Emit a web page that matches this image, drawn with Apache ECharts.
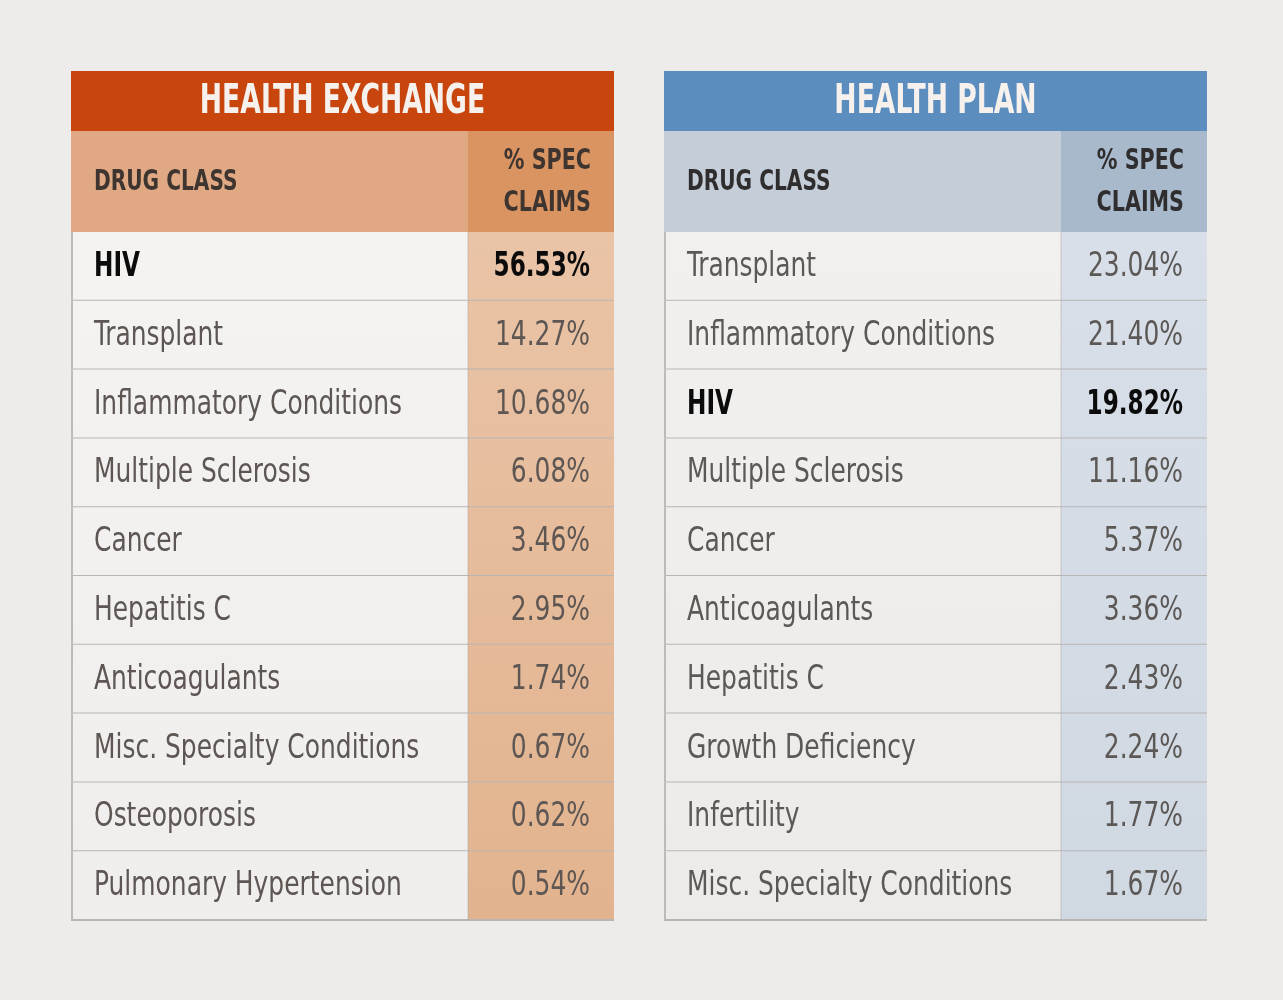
<!DOCTYPE html>
<html><head><meta charset="utf-8">
<script src="https://cdn.jsdelivr.net/npm/echarts@6/dist/echarts.min.js"></script>
<style>html,body{margin:0;padding:0;background:#edecea;}#c{width:1283px;height:1000px;}</style>
</head><body><div id="c"></div>
<script>
const exchangeLabels = ['HIV','Transplant','Inflammatory Conditions','Multiple Sclerosis','Cancer','Hepatitis C','Anticoagulants','Misc. Specialty Conditions','Osteoporosis','Pulmonary Hypertension'];
const exchangeValues = [56.53, 14.27, 10.68, 6.08, 3.46, 2.95, 1.74, 0.67, 0.62, 0.54];
const planLabels = ['Transplant','Inflammatory Conditions','HIV','Multiple Sclerosis','Cancer','Anticoagulants','Hepatitis C','Growth Deficiency','Infertility','Misc. Specialty Conditions'];
const planValues = [23.04, 21.40, 19.82, 11.16, 5.37, 3.36, 2.43, 2.24, 1.77, 1.67];
const tableTitles = ['HEALTH EXCHANGE','HEALTH PLAN'];
const columnHeaders = ['DRUG CLASS','% SPEC\nCLAIMS'];
const highlighted = 'HIV';

const FONT = "'DejaVu Sans Condensed','Liberation Sans Narrow',sans-serif";
const SPLIT = 397/543;
const G = echarts.graphic;

const palettes = [
  {title:'#c8450d', sub:'#e0a983', subCol:'#da9462', cellTop:'#f4f3f1', cellBot:'#efeeec', valTop:'#eac4a7', valBot:'#e2b38e', text:'#5d5653', head:'#3e3430'},
  {title:'#5b8dbf', sub:'#c4cdd8', subCol:'#a8b9cc', cellTop:'#f1f0ef', cellBot:'#ecebea', valTop:'#d8dfe8', valBot:'#d0d8e2', text:'#5c5856', head:'#2f2d2d'}
];
const tables = [
  {labels: exchangeLabels, values: exchangeValues, left: 71},
  {labels: planLabels, values: planValues, left: 664}
];
const TOP = 71, TITLE_H = 60, SUB_H = 101, BODY_TOP = 232, BODY_H = 688, WIDTH = 543;

function makeRender(labels, pal) {
  return function (params, api) {
    const i = api.value(0);
    const v = api.value(1);
    const cs = params.coordSys;
    const c = api.coord([0, i]);
    const h = api.size([0, 1])[1];
    const top = c[1] - h / 2;
    const xL = cs.x, xR = cs.x + cs.width, xS = cs.x + cs.width * SPLIT;
    const bold = labels[i] === highlighted;
    const y0 = cs.y, y1 = cs.y + cs.height;
    const cellFill = new G.LinearGradient(0, y0, 0, y1, [{offset:0,color:pal.cellTop},{offset:1,color:pal.cellBot}], true);
    const valFill = new G.LinearGradient(0, y0, 0, y1, [{offset:0,color:pal.valTop},{offset:1,color:pal.valBot}], true);
    const sx = bold ? 0.78 : 0.84;
    const txt = {fontFamily:FONT, fontSize:33, fontWeight:bold?'bold':'normal', fill:bold?'#0c0b0b':pal.text, verticalAlign:'middle'};
    const children = [
      {type:'rect', shape:{x:xL, y:top, width:xS-xL, height:h}, style:{fill:cellFill}},
      {type:'rect', shape:{x:xS, y:top, width:xR-xS, height:h}, style:{fill:valFill}},
      {type:'line', shape:{x1:xL, y1:top+h, x2:xR, y2:top+h}, style:{stroke:'#b8b6b3', lineWidth:2}},
      {type:'line', shape:{x1:xL+1, y1:top, x2:xL+1, y2:top+h}, style:{stroke:'#bdbbb8', lineWidth:2}},
      {type:'line', shape:{x1:xS, y1:top, x2:xS, y2:top+h}, style:{stroke:'rgba(170,165,160,0.5)', lineWidth:1}},
      {type:'text', x:xL+23, y:top+h/2+1, scaleX:sx, style:Object.assign({text:labels[i], x:0, y:0, align:'left'}, txt)},
      {type:'text', x:xR-24, y:top+h/2+1, scaleX:sx, style:Object.assign({text:v.toFixed(2)+'%', x:0, y:0, align:'right'}, txt)}
    ];
    return {type:'group', children};
  };
}

const graphics = [];
tables.forEach((t, k) => {
  const pal = palettes[k];
  const x = t.left, xs = t.left + WIDTH * SPLIT;
  graphics.push(
    {type:'rect', left:x, top:TOP, shape:{width:WIDTH, height:TITLE_H}, style:{fill:pal.title}},
    {type:'text', x:x+WIDTH/2, y:TOP+TITLE_H/2+2, scaleX:0.74, style:{text:tableTitles[k], x:0, y:0, align:'center', verticalAlign:'middle', fontFamily:FONT, fontSize:40, fontWeight:'bold', fill:'#f6f1ec'}},
    {type:'rect', left:x, top:TOP+TITLE_H, shape:{width:xs-x, height:SUB_H}, style:{fill:pal.sub}},
    {type:'rect', left:xs, top:TOP+TITLE_H, shape:{width:x+WIDTH-xs, height:SUB_H}, style:{fill:pal.subCol}},
    {type:'text', x:x+23, y:TOP+TITLE_H+SUB_H/2+1, scaleX:0.8, style:{text:columnHeaders[0], x:0, y:0, align:'left', verticalAlign:'middle', fontFamily:FONT, fontSize:28, fontWeight:'bold', fill:pal.head}},
    {type:'text', x:x+WIDTH-23, y:TOP+TITLE_H+SUB_H/2+1, scaleX:0.82, style:{text:columnHeaders[1], x:0, y:0, align:'right', verticalAlign:'middle', fontFamily:FONT, fontSize:28, fontWeight:'bold', lineHeight:42, fill:pal.head}}
  );
});

const option = {
  backgroundColor:'#edecea',
  animation:false,
  grid: tables.map(t => ({left:t.left, top:BODY_TOP, width:WIDTH, height:BODY_H, containLabel:false})),
  xAxis: tables.map((t, k) => ({type:'value', gridIndex:k, min:0, max:100, show:false})),
  yAxis: tables.map((t, k) => ({type:'category', gridIndex:k, inverse:true, data:t.labels, show:false})),
  graphic: graphics,
  series: tables.map((t, k) => ({
    type:'custom', xAxisIndex:k, yAxisIndex:k,
    encode:{y:0, x:1},
    data: t.values.map((v, i) => [i, v]),
    renderItem: makeRender(t.labels, palettes[k])
  }))
};
echarts.init(document.getElementById('c')).setOption(option);
</script></body></html>
